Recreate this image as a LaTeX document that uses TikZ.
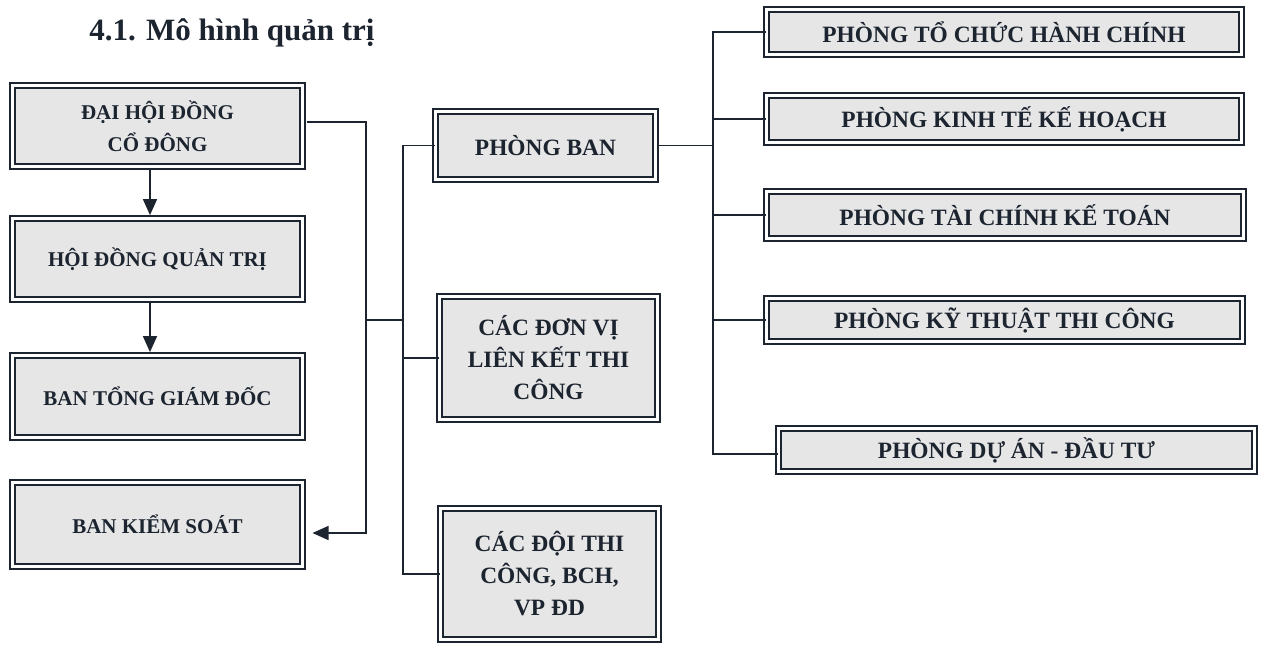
\documentclass[tikz,border=0pt]{standalone}
\usepackage{fontspec}
\setmainfont{Liberation Serif}
\usetikzlibrary{arrows.meta,calc}
\definecolor{ink}{HTML}{1C2430}
\definecolor{boxfill}{HTML}{E6E6E6}
\begin{document}
\begin{tikzpicture}[x=0.5pt,y=-0.5pt,
  dbox/.style={draw=ink, line width=0.9pt, double=white, double distance=1.6pt,
    fill=boxfill, inner sep=0pt, align=center, text=ink,
    font=\bfseries\fontsize{11.7}{16}\selectfont},
  lbox/.style={dbox, font=\bfseries\fontsize{10.5}{16}\selectfont},
  sz/.style 2 args={minimum width={(#1-6.8)*0.5pt}, minimum height={(#2-6.8)*0.5pt}},
  conn/.style={draw=ink, line width=0.75pt},
  arr/.style={conn, -{Triangle[length=8pt,width=7pt]}}]
\useasboundingbox (0,0) rectangle (1264,644);

% title
\node[anchor=base west, inner sep=0pt, text=ink, font=\bfseries\fontsize{15.5}{18}\selectfont]
  (title) at (89,40) {4.1. Mô hình quản trị};

% left column
\node[lbox, sz={297}{88}] (dh)   at (157.5,126)   {ĐẠI HỘI ĐỒNG\\CỔ ĐÔNG};
\node[lbox, sz={297}{88}] (hd)   at (157.5,259)   {HỘI ĐỒNG QUẢN TRỊ};
\node[lbox, sz={297}{89}] (btgd) at (157.5,396.5) {BAN TỔNG GIÁM ĐỐC};
\node[lbox, sz={297}{91}] (bks)  at (157.5,524.5) {BAN KIỂM SOÁT};

% middle column
\node[dbox, sz={227}{75}]  (pb)  at (545.5,145.5) {PHÒNG BAN};
\node[dbox, sz={225}{130}] (dv)  at (548.5,358)   {CÁC ĐƠN VỊ\\LIÊN KẾT THI\\CÔNG};
\node[dbox, sz={225}{138}] (doi) at (549.5,574)   {CÁC ĐỘI THI\\CÔNG, BCH,\\VP ĐD};

% right column
\node[dbox, sz={482}{52}] (tc)   at (1004,32)     {PHÒNG TỔ CHỨC HÀNH CHÍNH};
\node[dbox, sz={482}{54}] (kt)   at (1004,119)    {PHÒNG KINH TẾ KẾ HOẠCH};
\node[dbox, sz={484}{54}] (tckt) at (1005,215)    {PHÒNG TÀI CHÍNH KẾ TOÁN};
\node[dbox, sz={483}{50}] (ktt)  at (1004.5,320)  {PHÒNG KỸ THUẬT THI CÔNG};
\node[dbox, sz={483}{50}] (da)   at (1016.5,450)  {PHÒNG DỰ ÁN - ĐẦU TƯ};

% helper coordinates
\coordinate (ax) at (150,0);
\coordinate (s1) at (366,0);
\coordinate (s2) at (403,0);
\coordinate (s3) at (712,0);
\coordinate (j1) at (366,320);
\coordinate (j2) at (403,320);

% left vertical arrows
\draw[arr, shorten >=1.2pt] (dh.south -| ax) -- (hd.north -| ax);
\draw[arr, shorten >=1.2pt] (hd.south -| ax) -- (btgd.north -| ax);

% ĐHĐCĐ -> BKS loop
\draw[arr, shorten >=4.5pt] ($(dh.east)+(3,-4)$) -- ($(dh.east -| s1)+(0,-4)$)
   -- ($(s1 |- bks.east)+(0,8.5)$) -- ($(bks.east)+(0,8.5)$);

% branch to middle spine
\draw[conn] (j1) -- (j2);
\draw[conn] (pb.west) -| (s2 |- doi.west) -- (doi.west);
\draw[conn] (s2 |- dv.west) -- (dv.west);

% right spine
\draw[conn] (pb.east) -- (pb.east -| s3);
\draw[conn] (tc.west) -| ($(s3 |- da.west)+(1,4)$) -- ($(da.west)+(0,4)$);
\draw[conn] (s3 |- kt.west) -- (kt.west);
\draw[conn] (s3 |- tckt.west) -- (tckt.west);
\draw[conn] (s3 |- ktt.west) -- (ktt.west);
\end{tikzpicture}
\end{document}
